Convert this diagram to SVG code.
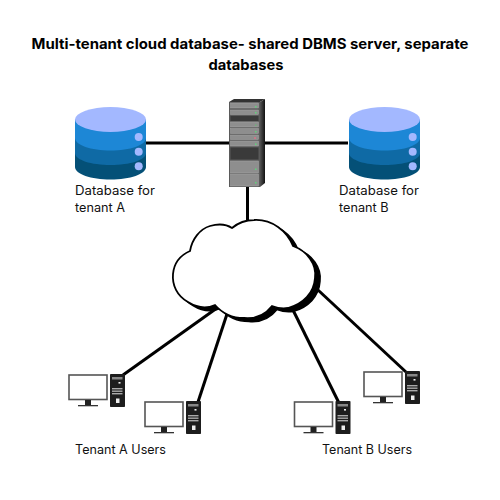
<svg xmlns="http://www.w3.org/2000/svg" xmlns:xlink="http://www.w3.org/1999/xlink" width="500" height="500" viewBox="0 0 500 500">
<style>
text{font-family:"Inter","Noto Sans","Liberation Sans",sans-serif;fill:#111}
.t{font-size:14.500px;font-weight:700;text-anchor:middle;fill:#000}
.l{font-size:12.700px}
.c line{stroke:#000;stroke-width:3;fill:none}
.ru{fill:#8e8e8e;stroke:#a8a8a8;stroke-width:.5}
.rd{fill:#3a3a3a}
</style>
<defs>
<linearGradient id="side" x1="0" x2="1" y1="0" y2="0"><stop offset="0" stop-color="#555"/><stop offset="1" stop-color="#111"/></linearGradient>
<path id="cloudp" d="M232 228C238 223 246 220 254 220C272 219 287 231 293 246C307 251 317 264 315 278C314 293 303 304 288 308C282 309 277 308 272 306C265 315 255 319 244 318C232 318 222 313 215 305C206 309 196 307 188 302C177 296 172 285 173 274C174 263 181 255 190 251C192 239 200 229 210 226C217 224 226 224 232 228Z"/>
<g id="db">
<path d="M0 12.500V60C0 67 16 72.500 35.500 72.500S71 67 71 60V12.500Z" fill="#045077"/>
<path d="M0 12.500V46C0 53 16 58 35.500 58S71 53 71 46V12.500Z" fill="#0f6aa5"/>
<path d="M0 12.500V31C0 38 16 43.500 35.500 43.500S71 38 71 31V12.500Z" fill="#1d87d6"/>
<ellipse cx="35.500" cy="12.500" rx="35.500" ry="12.500" fill="#a3b8ff"/>
<circle cx="63.700" cy="30" r="4" fill="#a3b8ff"/>
<circle cx="63.700" cy="44.700" r="4" fill="#a3b8ff"/>
<circle cx="63.700" cy="59.300" r="4" fill="#a3b8ff"/>
</g>
<g id="pc">
<rect x="1" y="1" width="38" height="24.500" fill="#fff" stroke="#555" stroke-width="1.600"/>
<rect x="17" y="26" width="6" height="5" fill="#222"/>
<rect x="10" y="31" width="20" height="1.300" fill="#333"/>
<rect x="42" y="0" width="15" height="33" rx=".8" fill="#1d1d1d"/>
<rect x="44" y="3" width="10.500" height="2.500" fill="#888"/>
<rect x="50.500" y="8" width="2" height="1.600" fill="#eee"/>
<rect x="44" y="14" width="10.500" height="1.400" fill="#aaa"/>
<rect x="44" y="16.500" width="10.500" height="1.400" fill="#aaa"/>
<rect x="44" y="19" width="10.500" height="1.400" fill="#aaa"/>
<rect x="48" y="24.500" width="3.500" height="4.500" fill="#eee"/>
</g>
</defs>
<text class="t" x="250" y="49" textLength="437" lengthAdjust="spacingAndGlyphs">Multi-tenant cloud database- shared DBMS server, separate</text>
<text class="t" x="246" y="70" textLength="75" lengthAdjust="spacingAndGlyphs">databases</text>
<g id="connectors" class="c">
<line x1="146" y1="143" x2="348" y2="143"/>
<line x1="247.500" y1="185" x2="247.500" y2="222"/>
<line x1="123" y1="375" x2="217" y2="308"/>
<line x1="198" y1="402" x2="227" y2="314"/>
<line x1="339" y1="403" x2="293" y2="310"/>
<line x1="406" y1="372" x2="318" y2="290"/>
</g>
<g id="db-a"><use xlink:href="#db" href="#db" x="75" y="107"/><text class="l" x="75" y="195" textLength="80" lengthAdjust="spacingAndGlyphs">Database for</text><text class="l" x="75" y="212">tenant A</text></g>
<g id="db-b"><use xlink:href="#db" href="#db" x="349" y="107"/><text class="l" x="339" y="195" textLength="80" lengthAdjust="spacingAndGlyphs">Database for</text><text class="l" x="339" y="212">tenant B</text></g>
<g id="server">
<path d="M229 102L234 99H265L260 102Z" fill="#333"/>
<path d="M260 102L265 99V183L260 187Z" fill="url(#side)"/>
<rect x="229" y="102" width="31" height="85" fill="#5a5a5a"/>
<rect class="ru" x="230.500" y="103" width="28" height="5"/>
<rect class="ru" x="230.500" y="110" width="28" height="4.500"/>
<rect class="rd" x="230.500" y="116" width="28" height="5"/>
<rect class="ru" x="230.500" y="122" width="28" height="5"/>
<rect class="ru" x="230.500" y="128.500" width="28" height="5"/>
<rect class="ru" x="230.500" y="135" width="28" height="4.500"/>
<rect class="ru" x="230.500" y="141" width="28" height="5"/>
<rect class="rd" x="230.500" y="147.500" width="28" height="12"/>
<rect class="ru" x="230.500" y="161" width="28" height="12"/>
<rect class="ru" x="230.500" y="174" width="28" height="12"/>
<rect x="255" y="106" width="1.500" height="1.500" fill="#5ed47a"/>
<rect x="255" y="112" width="1.500" height="1.500" fill="#5ed47a"/>
<rect x="255" y="124.500" width="1.500" height="1.500" fill="#6fb07a"/>
<rect x="255" y="131" width="1.500" height="1.500" fill="#5ed47a"/>
<rect x="254" y="137" width="2" height="2" fill="#c77a8a"/>
<rect x="255" y="143.500" width="1.500" height="1.500" fill="#5ed47a"/>
<rect x="255" y="168.500" width="1.500" height="1.500" fill="#5ed47a"/>
<rect x="255" y="182" width="1.500" height="1.500" fill="#5ed47a"/>
</g>
<g id="cloud">
<use xlink:href="#cloudp" href="#cloudp" x="5" y="3.500" fill="#000" stroke="#000" stroke-width="1.500"/>
<use xlink:href="#cloudp" href="#cloudp" fill="#fff" stroke="#000" stroke-width="1.800"/>
</g>
<g id="pc-a1"><use xlink:href="#pc" href="#pc" x="68" y="374"/></g>
<g id="pc-a2"><use xlink:href="#pc" href="#pc" x="144" y="401"/></g>
<g id="pc-b1"><use xlink:href="#pc" href="#pc" x="293.500" y="401"/></g>
<g id="pc-b2"><use xlink:href="#pc" href="#pc" x="363" y="371"/></g>
<text class="l" x="75" y="454" textLength="91" lengthAdjust="spacingAndGlyphs">Tenant A Users</text>
<text class="l" x="322" y="454" textLength="90" lengthAdjust="spacingAndGlyphs">Tenant B Users</text>
</svg>
